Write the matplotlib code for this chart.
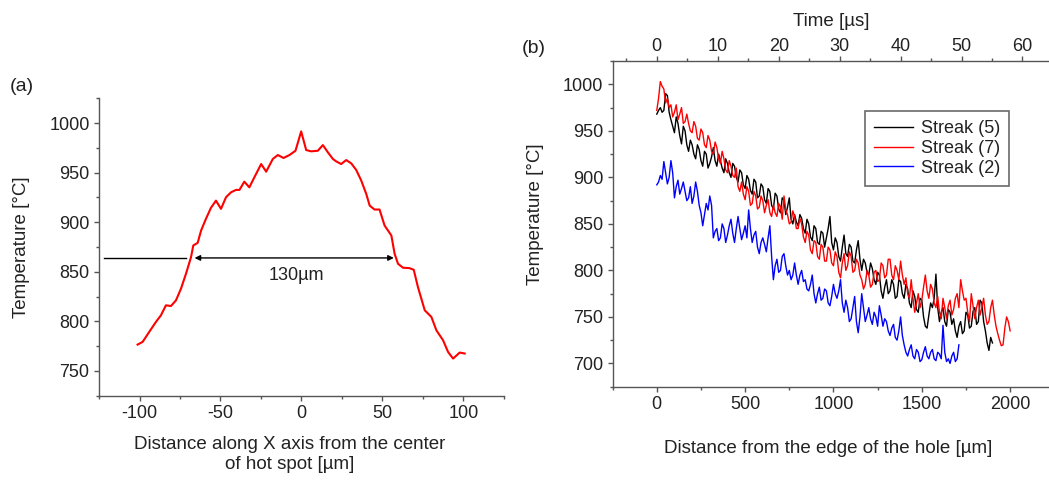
import numpy as np
import matplotlib
matplotlib.use('Agg')
import matplotlib.pyplot as plt
from matplotlib.ticker import MultipleLocator

plt.rcParams['font.family'] = ['Liberation Sans', 'DejaVu Sans']
plt.rcParams['axes.unicode_minus'] = False

# (a) profile across the hot spot
spot_x = [-101.2, -98.1, -94.0, -89.9, -86.8, -83.7, -80.6, -77.5, -74.4, -71.3,
          -68.2, -66.8, -64.1, -62.0, -59.0, -55.9, -52.8, -49.7, -46.6, -43.5,
          -40.4, -38.3, -35.3, -32.2, -29.1, -24.9, -21.8, -17.7, -14.6, -11.1,
          -7.4, -3.7, -0.2, 2.9, 6.0, 10.1, 13.2, 16.3, 19.4, 21.4,
          24.5, 27.6, 30.7, 33.8, 36.9, 40.0, 42.1, 45.1, 48.2, 51.3,
          55.5, 57.5, 59.6, 62.7, 66.4, 69.3, 71.9, 76.1, 80.2, 83.3,
          87.4, 90.5, 93.6, 97.7, 100.8]
spot_t = [776.6, 779.3, 789.4, 799.4, 806.1, 816.2, 815.5, 821.2, 833.0, 848.1,
          864.8, 876.6, 879.2, 891.6, 903.4, 914.5, 921.8, 913.5, 925.2, 930.2,
          932.6, 932.6, 940.9, 935.2, 945.3, 958.7, 951.0, 963.8, 967.8, 964.8,
          967.8, 972.1, 991.6, 972.8, 971.5, 972.1, 977.8, 970.5, 963.8, 961.4,
          958.7, 962.7, 959.4, 952.7, 942.0, 928.5, 916.8, 912.8, 912.8, 896.7,
          886.6, 868.2, 858.1, 854.1, 853.8, 852.1, 834.6, 811.2, 804.5, 791.0,
          781.0, 769.2, 762.5, 768.6, 767.6]

# (b) temperature along the streaks, one value every 10 µm
streak5_x = np.arange(0, 1901, 10)
streak5_t = [968, 972, 975, 970, 972, 990, 988, 970, 962, 955,
             948, 965, 958, 945, 936, 955, 950, 935, 928, 940,
             935, 925, 920, 935, 930, 918, 912, 928, 925, 910,
             915, 922, 932, 918, 912, 925, 918, 910, 905, 920,
             915, 905, 900, 915, 912, 900, 895, 908, 905, 892,
             888, 902, 898, 886, 882, 898, 895, 878, 880, 893,
             890, 876, 872, 888, 885, 870, 866, 883, 880, 866,
             862, 878, 875, 860, 868, 878, 855, 850, 860, 852,
             848, 860, 856, 845, 840, 855, 850, 836, 832, 848,
             845, 830, 828, 842, 840, 825, 835, 845, 858, 830,
             822, 835, 830, 815, 810, 825, 838, 818, 815, 828,
             825, 810, 808, 822, 832, 812, 800, 812, 808, 798,
             795, 808, 802, 790, 785, 798, 795, 778, 770, 782,
             790, 775, 778, 790, 785, 770, 772, 790, 788, 775,
             770, 785, 780, 765, 760, 778, 772, 758, 755, 770,
             768, 750, 740, 738, 752, 765, 760, 770, 796, 760,
             745, 755, 760, 745, 740, 758, 755, 742, 748, 735,
             728, 740, 745, 732, 735, 755, 752, 738, 740, 756,
             760, 742, 745, 768, 765, 745, 735, 722, 714, 728,
             722]

streak7_x = np.arange(0, 2001, 10)
streak7_t = [972, 985, 1003, 998, 995, 980, 985, 975, 978, 965,
             970, 978, 962, 968, 975, 958, 960, 968, 958, 950,
             948, 960, 955, 942, 940, 952, 948, 935, 932, 945,
             940, 928, 925, 938, 932, 920, 915, 928, 920, 908,
             905, 918, 912, 902, 900, 910, 890, 885, 895, 882,
             876, 890, 885, 870, 872, 885, 880, 866, 868, 880,
             875, 862, 870, 876, 862, 858, 870, 862, 858, 872,
             868, 855, 880, 865, 860, 850, 852, 864, 858, 845,
             845, 856, 850, 836, 830, 842, 838, 822, 818, 832,
             830, 815, 812, 828, 825, 810, 810, 825, 822, 808,
             805, 820, 815, 798, 792, 808, 818, 800, 805, 820,
             815, 798, 800, 812, 808, 795, 790, 780, 785, 800,
             795, 782, 785, 798, 800, 788, 790, 808, 805, 792,
             795, 812, 812, 795, 790, 805, 800, 790, 810, 795,
             785, 792, 775, 770, 790, 770, 755, 765, 775, 760,
             768, 782, 795, 778, 770, 785, 780, 765, 760, 772,
             755, 748, 770, 760, 748, 762, 768, 752, 758, 770,
             775, 760, 790, 778, 768, 770, 755, 745, 775, 762,
             748, 760, 768, 752, 760, 770, 752, 742, 745, 760,
             768, 752, 740, 732, 725, 719, 720, 738, 750, 745,
             735]

streak2_x = np.arange(0, 1711, 10)
streak2_t = [892, 895, 902, 898, 917, 905, 893, 900, 918, 905,
             878, 890, 897, 882, 888, 895, 885, 875, 878, 890,
             872, 880, 895, 885, 870, 862, 848, 860, 872, 865,
             880, 870, 835, 842, 845, 832, 835, 850, 845, 830,
             838, 848, 855, 840, 830, 845, 858, 845, 833, 840,
             848, 835, 865, 845, 830, 838, 842, 825, 818, 830,
             835, 828, 820, 835, 848, 815, 790, 805, 812, 798,
             800, 815, 818, 805, 795, 800, 790, 795, 808, 795,
             785, 795, 800, 788, 790, 780, 778, 785, 795, 775,
             765, 775, 782, 768, 770, 780, 778, 765, 762, 772,
             785, 775, 770, 778, 790, 765, 755, 768, 760, 745,
             748, 760, 772, 745, 733, 750, 775, 760, 745, 752,
             760, 748, 742, 755, 750, 740, 762, 752, 740, 748,
             745, 735, 730, 738, 742, 728, 725, 735, 750, 730,
             720, 712, 708, 715, 720, 708, 705, 715, 712, 702,
             704, 712, 718, 708, 705, 712, 715, 705, 703, 712,
             710, 705, 741, 712, 702, 705, 700, 708, 712, 702,
             705, 720]

spine_col = '#555555'
text_col = '#222222'

fig = plt.figure(figsize=(10.49, 4.88), dpi=100)
ax1 = fig.add_axes([0.0944, 0.189, 0.386, 0.6096])
ax2 = fig.add_axes([0.584, 0.2076, 0.416, 0.6672])


def style_ticks(ax, which_axis='both'):
    ax.tick_params(axis=which_axis, which='both', direction='out',
                   color=spine_col, labelcolor=text_col, labelsize=13,
                   width=1.0, pad=3)
    ax.tick_params(axis=which_axis, which='major', length=3.8)
    ax.tick_params(axis=which_axis, which='minor', length=2.3)


def style_axes(ax):
    for s in ['left', 'bottom', 'top', 'right']:
        ax.spines[s].set_color(spine_col)
        ax.spines[s].set_linewidth(1.0)
    ax.spines['right'].set_visible(False)
    ax.spines['top'].set_visible(False)
    style_ticks(ax)


# ---- panel (a)
style_axes(ax1)
ax1.plot(spot_x, spot_t, color='#ff0000', lw=1.5)
ax1.set_xlim(-125, 125)
ax1.set_ylim(725, 1025)
ax1.xaxis.set_major_locator(MultipleLocator(50))
ax1.xaxis.set_minor_locator(MultipleLocator(25))
ax1.yaxis.set_major_locator(MultipleLocator(50))
ax1.yaxis.set_minor_locator(MultipleLocator(25))
ax1.set_ylabel('Temperature [°C]', fontsize=13.5, color=text_col)
ax1.yaxis.set_label_coords(-0.17, 0.5)
ax1.set_xlabel('Distance along X axis from the center\nof hot spot [µm]',
               fontsize=13.5, color=text_col, linespacing=1.2)
ax1.xaxis.set_label_coords(0.472, -0.135)

ax1.plot([-122, -71], [864, 864], color='black', lw=1)
ax1.annotate('', xy=(57, 864), xytext=(-66, 864),
             arrowprops=dict(arrowstyle='<|-|>', color='black', lw=1,
                             mutation_scale=8, shrinkA=0, shrinkB=0))
ax1.text(-3, 846, '130µm', ha='center', va='center', fontsize=13,
         color=text_col)

# ---- panel (b)
style_axes(ax2)
ax2.plot(streak5_x, streak5_t, color='black', lw=1, label='Streak (5)')
ax2.plot(streak7_x, streak7_t, color='#ff0000', lw=1, label='Streak (7)')
ax2.plot(streak2_x, streak2_t, color='#0000ff', lw=1, label='Streak (2)')
ax2.set_xlim(-250, 2220)
ax2.set_ylim(675, 1025)
ax2.xaxis.set_major_locator(MultipleLocator(500))
ax2.xaxis.set_minor_locator(MultipleLocator(250))
ax2.yaxis.set_major_locator(MultipleLocator(50))
ax2.yaxis.set_minor_locator(MultipleLocator(25))
ax2.set_ylabel('Temperature [°C]', fontsize=13.5, color=text_col)
ax2.yaxis.set_label_coords(-0.157, 0.53)
ax2.set_xlabel('Distance from the edge of the hole [µm]',
               fontsize=13.5, color=text_col)
ax2.xaxis.set_label_coords(0.493, -0.165)

speed = 34.5  # µm per µs
sec = ax2.secondary_xaxis('top', functions=(lambda d: d / speed,
                                            lambda t: t * speed))
sec.spines['top'].set_color(spine_col)
sec.spines['top'].set_linewidth(1.0)
sec.xaxis.set_major_locator(MultipleLocator(10))
sec.xaxis.set_minor_locator(MultipleLocator(5))
style_ticks(sec, 'x')
sec.tick_params(axis='x', which='both', pad=0.5)
sec.set_xlabel('Time [µs]', fontsize=13.5, color=text_col, labelpad=9)

leg = ax2.legend(loc='upper right', bbox_to_anchor=(0.908, 0.846),
                 fontsize=13, frameon=True, fancybox=False, handlelength=2.2,
                 borderpad=0.5, labelspacing=0.15, handletextpad=0.4,
                 borderaxespad=0)
leg.get_frame().set_edgecolor('#444444')
leg.get_frame().set_linewidth(1.2)
for t in leg.get_texts():
    t.set_color(text_col)

fig.text(0.0095, 0.822, '(a)', fontsize=14, color=text_col, va='center')
fig.text(0.4976, 0.9016, '(b)', fontsize=14, color=text_col, va='center')

fig.savefig('out.png', dpi=100)
